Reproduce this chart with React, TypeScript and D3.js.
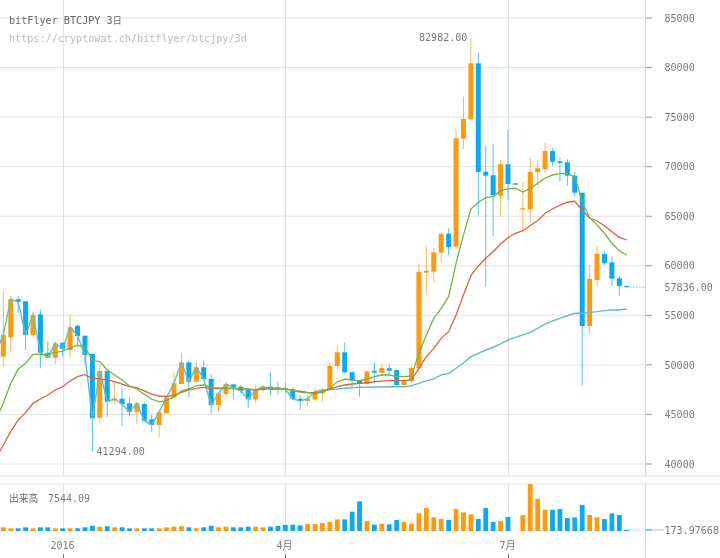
import * as d3 from "d3";

const opens = [53000, 50830, 52780, 56620, 56420, 53020, 55100, 51230, 50730, 52240, 51500, 53950, 52950, 51100, 44670, 49380, 46390, 46590, 46120, 45250, 46050, 44510, 43940, 45120, 46730, 48070, 50260, 48300, 49760, 48580, 45950, 47060, 48040, 47800, 47470, 46530, 47470, 47800, 47740, 47640, 47540, 46590, 46360, 46530, 47130, 47470, 49890, 51270, 49250, 48410, 48070, 49410, 49210, 49660, 49490, 47970, 48370, 49660, 59300, 59400, 61320, 63240, 61930, 72820, 74780, 80430, 69490, 69130, 67070, 70240, 68320, 65660, 65700, 69430, 69740, 71580, 70540, 70440, 69090, 67370, 53920, 58570, 61190, 60350, 58740, 57960];
const highs = [53500, 57390, 56950, 56950, 56450, 55370, 55610, 52410, 52410, 52240, 55030, 54030, 52950, 51100, 49990, 49380, 48300, 47700, 46690, 46290, 46190, 44940, 45450, 46730, 49310, 51170, 50420, 50320, 50490, 49050, 47160, 48300, 48040, 47970, 47470, 47970, 47970, 49250, 48300, 48200, 47700, 46960, 46960, 47640, 47740, 50160, 51910, 52280, 49410, 48410, 49380, 50260, 50060, 50060, 49490, 48650, 49890, 60150, 62030, 61820, 63240, 63780, 73800, 77060, 82982, 81500, 72120, 72260, 70670, 73700, 68320, 68480, 70850, 70600, 72360, 71850, 70910, 70740, 69490, 67370, 60080, 61930, 61490, 60920, 58970, 57960];
const lows = [50500, 49820, 51400, 55240, 51500, 52780, 49720, 50730, 50090, 50830, 50670, 51910, 50090, 41294, 44140, 44740, 46050, 43860, 44770, 44040, 44370, 43260, 42690, 45050, 46530, 48070, 46730, 48300, 48580, 45050, 45220, 46560, 46560, 47160, 45620, 46120, 47130, 46960, 46960, 47130, 46460, 45450, 45850, 46390, 46330, 47300, 49660, 49150, 47740, 46790, 47970, 48140, 48810, 49080, 47870, 47800, 48140, 49150, 57280, 58390, 60350, 61090, 61690, 71780, 74780, 65120, 57890, 63010, 65050, 66640, 68180, 63610, 64450, 67820, 69330, 70100, 68480, 68080, 67040, 47900, 53190, 57960, 60080, 57960, 56980, 57800];
const closes = [51200, 53020, 56620, 56350, 53020, 55030, 51230, 50730, 52180, 51600, 53790, 52920, 51000, 44610, 49380, 46290, 46590, 46050, 45250, 46120, 44370, 43940, 45220, 46730, 48140, 50260, 48300, 49760, 48580, 45950, 47130, 48070, 47700, 47370, 46530, 47470, 47800, 47540, 47540, 47540, 46560, 46360, 46590, 47130, 47470, 49890, 51270, 49250, 48410, 48070, 49350, 49210, 49690, 49410, 47970, 48480, 49690, 59400, 59500, 61360, 63240, 61870, 72860, 74810, 80430, 69460, 69090, 67140, 70240, 68250, 68180, 65800, 69490, 69840, 71580, 70500, 70370, 69090, 67370, 53920, 58670, 61190, 60250, 58700, 57960, 57836];
const volumes = [500, 590, 430, 430, 590, 430, 590, 590, 430, 430, 430, 430, 590, 850, 690, 750, 590, 590, 430, 430, 430, 430, 430, 590, 690, 750, 590, 430, 590, 850, 590, 690, 590, 590, 690, 690, 590, 690, 800, 960, 1010, 900, 1120, 1120, 1280, 1440, 1870, 1870, 3090, 4750, 1600, 1010, 1170, 1070, 1760, 1440, 1170, 2830, 3680, 2190, 1920, 1760, 3520, 2990, 2670, 1920, 3680, 1440, 1600, 2240, 0, 2560, 7544.09, 5170, 3410, 3410, 3520, 2080, 2190, 4160, 2560, 2190, 1920, 2830, 2560, 173.97668];

const maShort = [44440, 46120, 48140, 49560, 50160, 51070, 51070, 51070, 51230, 51400, 51730, 51980, 51780, 50490, 50320, 49490, 48980, 48480, 47870, 47570, 47030, 46530, 46290, 46390, 46790, 47370, 47570, 47900, 47970, 47700, 47670, 47670, 47600, 47600, 47540, 47470, 47670, 47700, 47600, 47570, 47400, 47260, 47190, 47130, 47260, 47600, 48300, 48550, 48480, 48410, 48550, 48810, 48980, 48980, 48810, 48810, 48880, 51170, 53020, 54700, 55710, 56880, 60250, 63110, 65730, 66410, 66870, 66970, 67580, 67750, 67820, 67440, 67790, 68320, 68830, 69160, 69290, 69330, 68990, 66470, 64850, 64120, 63280, 62270, 61520, 61090];
const maMid = [40610, 41920, 43260, 44440, 45180, 46120, 46560, 46960, 47470, 47800, 48370, 48810, 49010, 48650, 48580, 48480, 48300, 48070, 47800, 47700, 47370, 47060, 46860, 46830, 46890, 47230, 47470, 47640, 47740, 47640, 47600, 47600, 47600, 47600, 47540, 47470, 47540, 47640, 47600, 47570, 47400, 47340, 47230, 47190, 47300, 47540, 47800, 47970, 48070, 48140, 48200, 48300, 48370, 48410, 48410, 48410, 48480, 49660, 50830, 51670, 52680, 53350, 55030, 57050, 59000, 59980, 60760, 61420, 62200, 62830, 63280, 63540, 64070, 64550, 65300, 65730, 66130, 66410, 66510, 65630, 64790, 64520, 64040, 63440, 62870, 62600];
// the long average only settles after the first 43 periods, before that it sits on the close
const maLongTail = [47300, 47470, 47540, 47570, 47640, 47700, 47740, 47740, 47770, 47770, 47800, 47800, 47800, 47900, 48140, 48410, 48580, 48980, 49150, 49660, 50220, 50830, 51170, 51500, 51780, 52110, 52510, 52780, 53020, 53270, 53690, 54100, 54430, 54700, 54960, 55210, 55210, 55270, 55370, 55470, 55540, 55540, 55640];
const maLong = closes.slice(0, 43).concat(maLongTail);

const priceTicks = [40000, 45000, 50000, 55000, 60000, 65000, 70000, 75000, 80000, 85000];
const dateTicks = [
  { index: 9, label: "2016" },
  { index: 39, label: "4月" },
  { index: 69, label: "7月" },
];

const width = 720;
const height = 558;
const axisX = 645.5;
const labelX = 664.5;
const fontSize = 10.05;
const mono = "'DejaVu Sans Mono', monospace";
const UP = "#ff9a0a";
const DOWN = "#0aa9f5";
const GRID = "#e2e2e2";
const AXIS = "#d4d4d4";
const LABEL = "#7a7a7a";

const x = d3.scaleLinear().domain([0, 85]).range([-4.11, 626.74]);
const y = d3.scaleLinear().domain([40000, 85000]).range([464, 18]);
const yVol = d3.scaleLinear().domain([0, 7544.09]).range([531, 484]);

const line = d3
  .line<number>()
  .x((_d, i) => x(i))
  .y((d) => y(d));

const isUp = (i: number) => closes[i] >= opens[i];
const lastX = x(closes.length - 1);
const lastClose = closes[closes.length - 1];
const lastVol = volumes[volumes.length - 1];

export default function App() {
  return (
    <svg
      width={width}
      height={height}
      viewBox={`0 0 ${width} ${height}`}
      style={{ position: "absolute", left: 0, top: 0, background: "#fff", filter: "blur(0.3px)" }}
    >
      {priceTicks.map((t) => (
        <g key={t}>
          <line x1={0} x2={axisX} y1={y(t)} y2={y(t)} stroke={GRID} />
          <line x1={axisX} x2={652} y1={y(t)} y2={y(t)} stroke="#999" />
          <text x={labelX} y={y(t) + 3.7} fontFamily={mono} fontSize={fontSize} fill={LABEL}>
            {t}
          </text>
        </g>
      ))}

      <line x1={0} x2={width} y1={476} y2={476} stroke="#eee" strokeWidth={2} />
      <line x1={0} x2={width} y1={484} y2={484} stroke={GRID} />
      <line x1={axisX} x2={axisX} y1={0} y2={475} stroke={AXIS} />
      <line x1={axisX} x2={axisX} y1={484} y2={558} stroke={AXIS} />

      {dateTicks.map((t) => {
        const px = Math.round(x(t.index)) + 0.5;
        return (
          <g key={t.label}>
            <line x1={px} x2={px} y1={0} y2={475} stroke={GRID} />
            <line x1={px} x2={px} y1={484} y2={531} stroke={GRID} />
            <line x1={px} x2={px} y1={554} y2={558} stroke="#777" />
            <text
              x={px - 1}
              y={548.5}
              textAnchor="middle"
              fontFamily="'DejaVu Sans Mono', 'Noto Sans CJK JP', monospace"
              fontSize={fontSize}
              fill={LABEL}
            >
              {t.label}
            </text>
          </g>
        );
      })}

      {closes.map((c, i) => {
        const color = isUp(i) ? UP : DOWN;
        const top = y(Math.max(opens[i], c));
        const bottom = y(Math.min(opens[i], c));
        return (
          <g key={i} fill={color} stroke="none">
            <line x1={x(i)} x2={x(i)} y1={y(highs[i])} y2={y(lows[i])} stroke={color} strokeOpacity={0.7} />
            <rect x={x(i) - 2.5} y={top} width={5} height={Math.max(bottom - top, 1)} />
            <rect x={x(i) - 2.4} y={yVol(volumes[i])} width={4.8} height={531 - yVol(volumes[i])} />
          </g>
        );
      })}

      <path d={line(maLong) ?? ""} fill="none" stroke="#5fbfc2" strokeWidth={1.4} />
      <path d={line(maMid) ?? ""} fill="none" stroke="#dd6242" strokeWidth={1.3} />
      <path d={line(maShort) ?? ""} fill="none" stroke="#70b640" strokeWidth={1.3} />

      <line
        x1={lastX + 3}
        x2={axisX}
        y1={y(lastClose)}
        y2={y(lastClose)}
        stroke={DOWN}
        strokeOpacity={0.6}
        strokeDasharray="1.5 1.5"
      />
      <line
        x1={lastX + 3}
        x2={axisX}
        y1={yVol(lastVol)}
        y2={yVol(lastVol)}
        stroke={DOWN}
        strokeOpacity={0.6}
        strokeDasharray="1.5 1.5"
      />
      <line x1={axisX} x2={652} y1={yVol(lastVol)} y2={yVol(lastVol)} stroke={DOWN} />
      <line x1={652} x2={664} y1={yVol(lastVol)} y2={yVol(lastVol)} stroke="#bbb" />

      <text x={labelX} y={y(lastClose) + 3.7} fontFamily={mono} fontSize={fontSize} fill={LABEL}>
        {lastClose.toFixed(2)}
      </text>
      <text x={labelX} y={yVol(lastVol) + 3.7} fontFamily={mono} fontSize={fontSize} fill={LABEL}>
        {lastVol}
      </text>
      <text x={419} y={41} fontFamily={mono} fontSize={fontSize} fill={LABEL}>
        {d3.max(highs)!.toFixed(2)}
      </text>
      <text x={96.5} y={455.2} fontFamily={mono} fontSize={fontSize} fill={LABEL}>
        {d3.min(lows)!.toFixed(2)}
      </text>

      <text x={9} y={23.5} fontFamily={mono} fontSize={10.15} fill="#666">
        bitFlyer BTCJPY 3<tspan fontFamily="'Noto Sans CJK JP', sans-serif" fontSize={9}>日</tspan>
      </text>
      <text x={9} y={42} fontFamily={mono} fontSize={10.15} fill="#bbb">
        https://cryptowat.ch/bitflyer/btcjpy/3d
      </text>
      <text x={9} y={502} fontFamily="'Noto Sans CJK JP', sans-serif" fontSize={9.8} fill="#666">
        出来高
      </text>
      <text x={48} y={502} fontFamily={mono} fontSize={10} fill={LABEL}>
        {d3.max(volumes)}
      </text>
    </svg>
  );
}
